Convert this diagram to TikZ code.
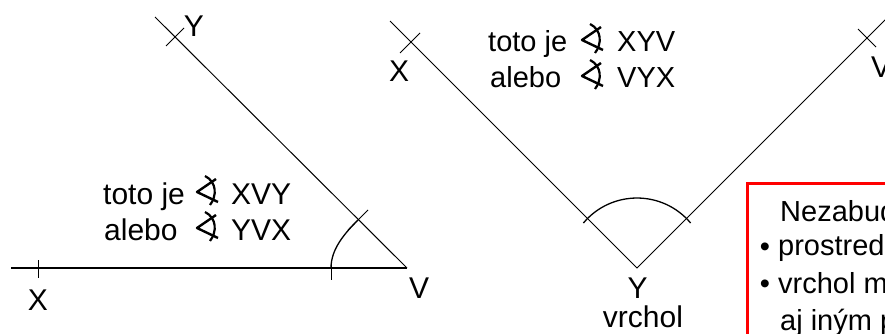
\documentclass[tikz,border=0pt]{standalone}
\usepackage{fontspec}
\setmainfont{Liberation Sans}
\begin{document}
\begin{tikzpicture}[x=1pt,y=-1pt,
  lbl/.style={inner sep=0pt, anchor=base, font=\fontsize{30}{34}\selectfont},
  txt/.style={inner sep=0pt, anchor=base west, font=\fontsize{30}{34}\selectfont},
  txtm/.style={inner sep=0pt, anchor=base west, font=\fontsize{29}{34}\selectfont},
  bul/.style={inner sep=0pt, anchor=center, font=\fontsize{29}{34}\selectfont},
  ray/.style={line width=1pt},
  base/.style={line width=1.5pt},
  tickmark/.style={line width=1pt},
  arcl/.style={line width=1.3pt},
  angmark/.pic={
    \draw[line width=2.4pt, line join=round] (18,-25) -- (-1,-12) -- (20,-2);
    \draw[line width=2.2pt] (7,-28) .. controls (19,-22) and (19,-8) .. (12,1);
  },
]
\useasboundingbox (0,0) rectangle (885,334);
\clip (0,0) rectangle (885,334);
\fill[white] (0,0) rectangle (885,334);

% ---- left angle XVY ----
\coordinate (V1) at (407,268);
\coordinate (H1) at (11,268);
\coordinate (R1) at (155,17);
\coordinate (X1) at (38,268);
\coordinate (Y1) at (175,37);
\coordinate (A1) at (331,268);
\coordinate (A2) at (358,220);
\draw[base] (H1) -- (V1);
\draw[ray] (V1) -- (R1);
\draw[tickmark] (X1) ++(0,-8) -- ++(0,18);
\draw[tickmark] (Y1) ++(-9,9) -- ++(18,-18);
\draw[arcl] (A1) .. controls (331,249) and (344.6,233.4) .. (A2);
\draw[tickmark] (A1) ++(0,-6) -- ++(0,18);
\draw[tickmark] (A2) ++(-10,10) -- ++(20,-20);
\node[lbl] (lX1) at (38,310) {X};
\node[lbl] (lV1) at (419,298) {V};
\node[lbl] (lY1) at (194,37) {Y};
\node[txt] (t1a) at (103,204) {toto je};
\pic (s1a) at (198,204) {angmark};
\node[txt] (n1a) at (231,204) {XVY};
\node[txt] (t1b) at (104,240) {alebo};
\pic (s1b) at (198,240) {angmark};
\node[txt] (n1b) at (231,240) {YVX};

% ---- middle angle XYV ----
\coordinate (Y2) at (637,268);
\coordinate (L2) at (390,21);
\coordinate (X2) at (410,43);
\coordinate (V2) at (867,38);
\coordinate (R2) at (900,5);
\coordinate (B1) at (583.4,223);
\coordinate (B2) at (690.6,223);
\draw[ray] (L2) -- (Y2) -- (R2);
\draw[tickmark] (X2) ++(-10,10) -- ++(20,-20);
\draw[tickmark] (V2) ++(-9,-9) -- ++(18,18);
\draw[arcl] (B1) .. controls (611.4,189.7) and (662.6,189.7) .. (B2);
\node[lbl] (lX2) at (399,82) {X};
\node[lbl] (lV2) at (881,78) {V};
\node[lbl] (lY2) at (637.5,298) {Y};
\node[lbl] (lvr) at (643,327) {vrchol};
\node[txtm] (t2a) at (488,52) {toto je};
\pic (s2a) at (583,52) {angmark};
\node[txtm] (n2a) at (617,52) {XYV};
\node[txtm] (t2b) at (490,88) {alebo};
\pic (s2b) at (583,88) {angmark};
\node[txtm] (n2b) at (617,88) {VYX};

% ---- note box ----
\draw[red, line width=3pt] (747,183) rectangle (960,400);
\node[txtm] (m1) at (780,221) {Nezabudnite,};
\node[bul] (b1) at (765,250) {•};
\node[txtm] (m2) at (778,255) {prostredné písmeno je vrchol};
\node[bul] (b2) at (765,287) {•};
\node[txtm] (m3) at (778,293) {vrchol môže byť označený};
\node[txtm] (m4) at (780,330) {aj iným písmenom};
\end{tikzpicture}
\end{document}
